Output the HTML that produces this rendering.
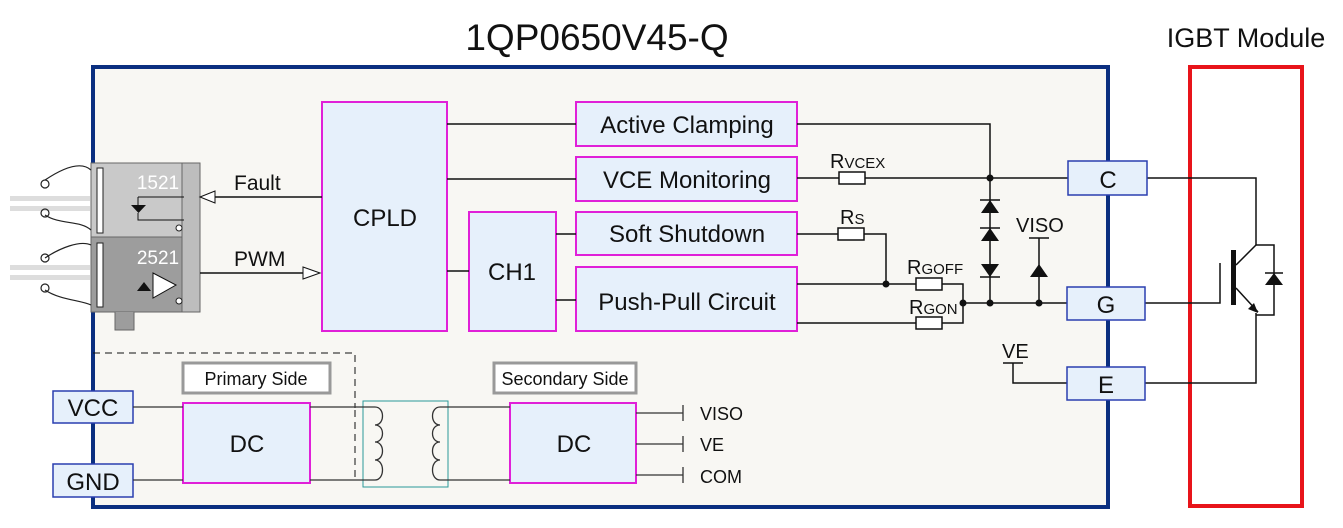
<!DOCTYPE html>
<html><head><style>
body{margin:0;background:#fff;}
svg{display:block;font-family:"Liberation Sans",sans-serif;}
</style></head><body>
<svg width="1343" height="528" viewBox="0 0 1343 528" xmlns="http://www.w3.org/2000/svg">
<text x="597" y="50" font-size="37" text-anchor="middle" fill="#111">1QP0650V45-Q</text>
<text x="1246" y="47" font-size="27" text-anchor="middle" fill="#111">IGBT Module</text>
<rect x="93" y="67" width="1015" height="440" fill="#f8f7f3" stroke="#0b2f80" stroke-width="4"/>
<rect x="1190" y="67" width="112" height="439" fill="none" stroke="#e8141a" stroke-width="4"/>

<g fill="#e6f0fb" stroke="#e020d8" stroke-width="2">
<rect x="322" y="102" width="125" height="229"/>
<rect x="469" y="212" width="87" height="119"/>
<rect x="576" y="102" width="221" height="44"/>
<rect x="576" y="157" width="221" height="44"/>
<rect x="576" y="212" width="221" height="43"/>
<rect x="576" y="267" width="221" height="64"/>
<rect x="183" y="403" width="127" height="80"/>
<rect x="510" y="403" width="126" height="80"/>
</g>
<g font-size="24" text-anchor="middle" fill="#111">
<text x="385" y="226">CPLD</text>
<text x="512" y="280">CH1</text>
<text x="687" y="133">Active Clamping</text>
<text x="687" y="188">VCE Monitoring</text>
<text x="687" y="242">Soft Shutdown</text>
<text x="687" y="310">Push-Pull Circuit</text>
<text x="247" y="452">DC</text>
<text x="574" y="452">DC</text>
</g>

<g stroke="#111" stroke-width="1.5" fill="none">
<path d="M447 124H576M447 179H576M447 271H469M556 234H576M556 300H576"/>
<path d="M797 124H990V303"/>
<path d="M797 178H839M865 178H1068"/>
<path d="M797 234H838M864 234H886V284"/>
<path d="M797 284H916M942 284H963V323H942M916 323H797"/>
<path d="M963 303H1067"/>
<path d="M1039 238V303M1029 238H1049"/>
<path d="M1003 363H1023M1013 363V383H1067"/>
<path d="M1147 178H1256V245H1274V315H1256V313M1256 313V383H1145"/>
<path d="M1145 303H1220V263"/>
<path d="M1236 265L1256 245M1236 288L1258 312"/>
<path d="M980 200H1000M980 228H1000M980 277H1000M1265 273H1283"/>
</g>
<rect x="1231" y="250" width="5" height="55" fill="#111"/>
<path d="M1258 313L1248 309L1254 303Z" fill="#111"/>
<g fill="#111">
<path d="M981 213H999L990 200Z"/>
<path d="M981 241H999L990 228Z"/>
<path d="M981 264H999L990 277Z"/>
<path d="M1030 277H1048L1039 264Z"/>
<path d="M1265 285H1283L1274 273Z"/>
<circle cx="990" cy="178" r="3.5"/><circle cx="886" cy="284" r="3.5"/>
<circle cx="963" cy="303" r="3.5"/><circle cx="990" cy="303" r="3.5"/><circle cx="1039" cy="303" r="3.5"/>
</g>
<g fill="#fff" stroke="#111" stroke-width="1.5">
<rect x="839" y="172" width="26" height="12"/>
<rect x="838" y="228" width="26" height="12"/>
<rect x="916" y="278" width="26" height="12"/>
<rect x="916" y="317" width="26" height="12"/>
</g>
<g font-size="20" fill="#111">
<text x="830" y="168">R<tspan font-size="15">VCEX</tspan></text>
<text x="840" y="224">R<tspan font-size="15">S</tspan></text>
<text x="907" y="274">R<tspan font-size="15">GOFF</tspan></text>
<text x="909" y="314">R<tspan font-size="15">GON</tspan></text>
<text x="1016" y="232">VISO</text>
<text x="1002" y="358">VE</text>
</g>

<g fill="#e6f0fb" stroke="#2a3fb0" stroke-width="1.5">
<rect x="1068" y="161" width="79" height="34"/>
<rect x="1067" y="287" width="78" height="33"/>
<rect x="1067" y="367" width="78" height="33"/>
<rect x="53" y="391" width="80" height="32"/>
<rect x="53" y="464" width="80" height="33"/>
</g>
<g font-size="24" text-anchor="middle" fill="#111">
<text x="1108" y="188">C</text>
<text x="1106" y="313">G</text>
<text x="1106" y="393">E</text>
<text x="93" y="416">VCC</text>
<text x="93" y="490">GND</text>
</g>

<!-- optocouplers -->
<rect x="91" y="163" width="109" height="74" fill="#c9c9c9" stroke="#666"/>
<rect x="91" y="237" width="109" height="75" fill="#9d9d9d" stroke="#666"/>
<rect x="182" y="163" width="18" height="149" fill="#bdbdbd" stroke="#666"/>
<path d="M115 312V330H134V312" fill="#9d9d9d" stroke="#666"/>
<rect x="97" y="168" width="6" height="65" fill="#fff" stroke="#222"/>
<rect x="97" y="243" width="6" height="64" fill="#fff" stroke="#222"/>
<text x="158" y="189" font-size="19" fill="#fff" text-anchor="middle">1521</text>
<text x="158" y="264" font-size="19" fill="#fff" text-anchor="middle">2521</text>
<path d="M131 205H146L138.5 213Z" fill="#111"/><path d="M138 197V205M138 213V220H184M138 197H184" stroke="#111" fill="none"/>
<path d="M137 291H151L144 282Z" fill="#111"/>
<path d="M153 273V298L176 285Z" fill="#fff" stroke="#111"/>
<circle cx="179" cy="228" r="3" fill="#fff" stroke="#222"/><circle cx="179" cy="301" r="3" fill="#fff" stroke="#222"/>
<g fill="#ddd"><rect x="10" y="196" width="80" height="5"/><rect x="10" y="206" width="80" height="5"/><rect x="10" y="265" width="80" height="5"/><rect x="10" y="275" width="80" height="5"/></g>
<g stroke="#222" fill="none" stroke-width="1.2">
<path d="M45 180C60 170 80 160 91 170M45 215C60 225 80 220 91 230M45 258C60 248 80 240 91 245M45 290C60 300 80 300 91 305"/>
<circle cx="45" cy="184" r="4"/><circle cx="45" cy="213" r="4"/><circle cx="45" cy="258" r="4"/><circle cx="45" cy="288" r="4"/>
</g>
<path d="M322 197H215M200 273H303" stroke="#111" stroke-width="1.5"/>
<path d="M200 197L215 191V203Z M320 273L303 267V279Z" fill="#fff" stroke="#111"/>
<text x="234" y="190" font-size="21" fill="#111">Fault</text>
<text x="234" y="266" font-size="21" fill="#111">PWM</text>

<!-- power -->
<path d="M93 353H355V408" stroke="#111" stroke-dasharray="7,5" fill="none"/>
<rect x="183" y="363" width="147" height="30" fill="#fff" stroke="#999" stroke-width="3"/>
<rect x="494" y="363" width="142" height="30" fill="#fff" stroke="#999" stroke-width="3"/>
<text x="256" y="385" font-size="18" text-anchor="middle" fill="#111">Primary Side</text>
<text x="565" y="385" font-size="18" text-anchor="middle" fill="#111">Secondary Side</text>
<rect x="363" y="401" width="85" height="86" fill="#f8f7f3" stroke="#2a9a9a"/>
<path d="M355 410V480" stroke="#111" stroke-dasharray="7,5"/>
<g stroke="#333" fill="none" stroke-width="1.3">
<path d="M133 407H183M310 407H375C385 407 385 425 375 425C385 425 385 442 375 442C385 442 385 460 375 460C385 460 385 480 375 480H310M133 480H183"/>
<path d="M510 407H440C430 407 430 425 440 425C430 425 430 442 440 442C430 442 430 460 440 460C430 460 430 480 440 480H510"/>
<path d="M636 413H683M636 444H683M636 475H683M683 405V421M683 436V452M683 467V483"/>
</g>
<g font-size="18" fill="#111">
<text x="700" y="420">VISO</text><text x="700" y="451">VE</text><text x="700" y="483">COM</text>
</g>
</svg>
</body></html>
